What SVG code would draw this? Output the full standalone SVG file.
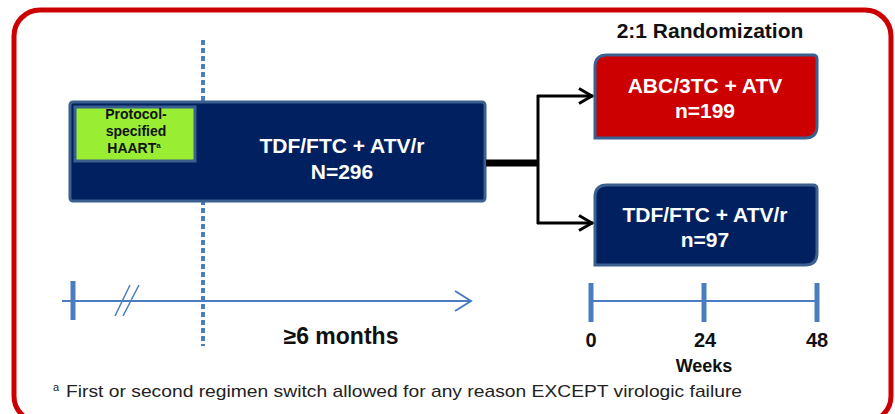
<svg xmlns="http://www.w3.org/2000/svg" width="895" height="414" viewBox="0 0 895 414">
<style>
text{font-family:"Liberation Sans",Arial,sans-serif;font-weight:bold;text-anchor:middle}
.w{fill:#ffffff;font-size:21px}
.k{fill:#111111}
.tl{stroke:#4a7cc0;fill:none}
.box{stroke:#3b5f8f;stroke-width:3}
.con{stroke:#000;fill:none}
</style>
<defs>
<marker id="ah" viewBox="0 0 16 18" refX="15" refY="9" markerWidth="16" markerHeight="18" markerUnits="userSpaceOnUse" orient="auto">
<path d="M1,1.5 L14,9 L1,16.5" fill="none" stroke="#000" stroke-width="3"/>
</marker>
<marker id="bh" viewBox="0 0 20 24" refX="18" refY="12" markerWidth="20" markerHeight="24" markerUnits="userSpaceOnUse" orient="auto">
<path d="M2,2 L18,12 L2,22" fill="none" stroke="#4a7cc0" stroke-width="2"/>
</marker>
</defs>
<rect x="14" y="10" width="877" height="412" rx="26" fill="#ffffff" stroke="#cc0000" stroke-width="5"/>
<text x="710" y="38" class="k" style="font-size:21px">2:1 Randomization</text>
<g id="dotted">
<line x1="203" y1="40" x2="203" y2="346" stroke="#4a7cc0" stroke-width="4" stroke-dasharray="5,3"/>
</g>
<g id="main">
<rect x="70" y="102" width="415" height="99" rx="3" fill="#002060" class="box"/>
<text x="342" y="153" class="w">TDF/FTC + ATV/r</text>
<text x="342" y="179" class="w">N=296</text>
</g>
<g id="haart">
<rect x="75" y="107" width="120" height="54" fill="#99ee33" class="box"/>
<text x="136" y="119" class="k" style="font-size:14px">Protocol-</text>
<text x="136" y="136" class="k" style="font-size:14px">specified</text>
<text x="134" y="153" class="k" style="font-size:14px">HAART<tspan style="font-size:8px" dy="-5">a</tspan></text>
</g>
<g id="connectors">
<line x1="486" y1="163" x2="539" y2="163" class="con" stroke-width="7"/>
<line x1="538" y1="95" x2="538" y2="224" class="con" stroke-width="3"/>
<line x1="537" y1="96" x2="593" y2="96" class="con" stroke-width="3" marker-end="url(#ah)"/>
<line x1="537" y1="223" x2="593" y2="223" class="con" stroke-width="3" marker-end="url(#ah)"/>
</g>
<g id="abc">
<path d="M607,55 H813 Q817,55 817,59 V126 Q817,138 805,138 H595 V67 Q595,55 607,55 Z" fill="#cc0000" class="box"/>
<text x="705" y="93" class="w">ABC/3TC + ATV</text>
<text x="705" y="118" class="w">n=199</text>
</g>
<g id="tdf">
<path d="M607,185 H813 Q817,185 817,189 V253 Q817,265 805,265 H595 V197 Q595,185 607,185 Z" fill="#002060" class="box"/>
<text x="705" y="222" class="w">TDF/FTC + ATV/r</text>
<text x="705" y="247" class="w">n=97</text>
</g>
<g id="timeline-left">
<line x1="62" y1="301" x2="471" y2="301" class="tl" stroke-width="2" marker-end="url(#bh)"/>
<line x1="73" y1="281" x2="73" y2="320" class="tl" stroke-width="5"/>
<line x1="115" y1="316" x2="130" y2="285" class="tl" stroke-width="1.5"/>
<line x1="123" y1="316" x2="139" y2="285" class="tl" stroke-width="1.5"/>
<text x="341" y="344" class="k" style="font-size:23px">≥6 months</text>
</g>
<g id="timeline-right">
<line x1="591" y1="301" x2="817" y2="301" class="tl" stroke-width="2"/>
<line x1="591" y1="283" x2="591" y2="322" class="tl" stroke-width="5"/>
<line x1="704" y1="283" x2="704" y2="322" class="tl" stroke-width="5"/>
<line x1="817" y1="283" x2="817" y2="322" class="tl" stroke-width="5"/>
<text x="591" y="347" class="k" style="font-size:20px">0</text>
<text x="705" y="347" class="k" style="font-size:20px">24</text>
<text x="817" y="347" class="k" style="font-size:20px">48</text>
<text x="704" y="372" class="k" style="font-size:18px">Weeks</text>
</g>
<g id="footnote">
<text x="53" y="391" style="font-weight:normal;text-anchor:start;font-size:11px;fill:#222">a</text>
<text x="66" y="397" textLength="676" lengthAdjust="spacingAndGlyphs" style="font-weight:normal;text-anchor:start;font-size:17px;fill:#222">First or second regimen switch allowed for any reason EXCEPT virologic failure</text>
</g>
</svg>
